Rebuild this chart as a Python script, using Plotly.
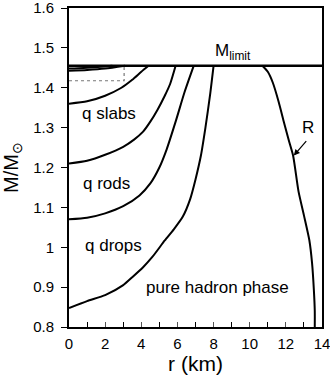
import plotly.graph_objects as go

# phase boundaries, r in km, M in solar masses
m_limit = 1.455

bound_a_r = [0, 0.8, 1.6, 2.4]
bound_a_m = [1.448, 1.4495, 1.452, 1.455]

bound_b_r = [0, 1.0, 2.0, 3.1]
bound_b_m = [1.4425, 1.4445, 1.448, 1.455]

slabs_r = [0, 1.0, 2.0, 2.9, 3.5, 4.0, 4.4]
slabs_m = [1.36, 1.366, 1.38, 1.40, 1.42, 1.44, 1.455]

rods_r = [0, 1.0, 2.0, 3.0, 3.6, 4.1, 4.5, 4.9, 5.3, 5.6, 5.9]
rods_m = [1.21, 1.217, 1.232, 1.252, 1.27, 1.29, 1.315, 1.345, 1.38, 1.41, 1.455]

drops_r = [0, 1.0, 2.0, 3.0, 3.9, 4.5, 5.0, 5.4, 5.9, 6.4, 6.9]
drops_m = [1.07, 1.074, 1.085, 1.103, 1.13, 1.16, 1.20, 1.245, 1.315, 1.39, 1.455]

hadron_r = [0, 1.0, 2.0, 3.0, 3.5, 4.1, 4.6, 5.3, 5.8, 6.3, 6.7, 7.0, 7.3, 7.55, 7.8, 8.0]
hadron_m = [0.8475, 0.865, 0.88, 0.905, 0.925, 0.95, 0.975, 1.017, 1.045, 1.077, 1.12, 1.17,
            1.23, 1.30, 1.38, 1.455]

radius_r = [10.7, 11.0, 11.28, 11.6, 11.9, 12.15, 12.4, 12.7, 13.0, 13.3, 13.45, 13.55, 13.6, 13.6]
radius_m = [1.455, 1.44, 1.4125, 1.365, 1.3125, 1.27, 1.23, 1.14, 1.08, 1.0175, 0.96, 0.8925,
            0.84, 0.8]

dotted_r = [0, 3.05, 3.05]
dotted_m = [1.4175, 1.4175, 1.455]

region_labels = ["q slabs", "q rods", "q drops", "pure hadron phase"]
label_r = [2.2, 2.1, 2.45, 8.2]
label_m = [1.335, 1.16, 1.005, 0.9]

fig = go.Figure()

for rr, mm in [(bound_a_r, bound_a_m), (bound_b_r, bound_b_m), (slabs_r, slabs_m),
               (rods_r, rods_m), (drops_r, drops_m), (hadron_r, hadron_m),
               (radius_r, radius_m)]:
    fig.add_trace(go.Scatter(x=rr, y=mm, mode="lines",
                             line=dict(color="black", width=2, shape="spline", smoothing=0.6),
                             hoverinfo="skip"))

fig.add_trace(go.Scatter(x=dotted_r, y=dotted_m, mode="lines",
                         line=dict(color="#777", width=1.2, dash="dot"), hoverinfo="skip"))

fig.add_trace(go.Scatter(x=[0, 14], y=[m_limit, m_limit], mode="lines",
                         line=dict(color="black", width=2.5), hoverinfo="skip"))

for txt, xx, yy in zip(region_labels, label_r, label_m):
    fig.add_annotation(x=xx, y=yy, text=txt, showarrow=False,
                       font=dict(size=17, color="black"))

fig.add_annotation(x=9.05, y=1.49, text="M<sub>limit</sub>", showarrow=False,
                   font=dict(size=17, color="black"))

fig.add_annotation(x=12.44, y=1.23, ax=13.2, ay=1.27, axref="x", ayref="y",
                   text="", showarrow=True, arrowhead=2, arrowsize=1,
                   arrowwidth=1.2, arrowcolor="black")
fig.add_annotation(x=13.2, y=1.30, text="R", showarrow=False,
                   font=dict(size=17, color="black"))

fig.update_layout(
    width=330, height=382,
    margin=dict(l=69, r=8, t=8, b=55, autoexpand=False),
    plot_bgcolor="white", paper_bgcolor="white",
    showlegend=False,
    font=dict(family="Liberation Sans, Arial, sans-serif", color="black"),
    xaxis=dict(range=[0, 14], tickvals=[0, 2, 4, 6, 8, 10, 12, 14],
               ticks="inside", ticklen=5, tickcolor="#555",
               minor=dict(dtick=1, ticks="inside", ticklen=5, tickcolor="black"),
               showline=True, mirror=True, linecolor="black", linewidth=2,
               showgrid=False, zeroline=False, automargin=False,
               tickfont=dict(size=15), ticklabelstandoff=2, ticklabeloverflow="allow",
               title=dict(text="r (km)", font=dict(size=21), standoff=2)),
    yaxis=dict(range=[0.8, 1.6], dtick=0.1,
               ticks="outside", ticklen=6, tickcolor="black",
               showline=True, mirror=True, linecolor="black", linewidth=2,
               showgrid=False, zeroline=False, automargin=False,
               tickfont=dict(size=15), ticklabelstandoff=4, ticklabeloverflow="allow",
               title=dict(text="M/M<sub>⊙</sub>", font=dict(size=20), standoff=16)),
)

fig.write_html("out.html", config={"displayModeBar": False},
               post_script="document.body.style.margin='0px';")
